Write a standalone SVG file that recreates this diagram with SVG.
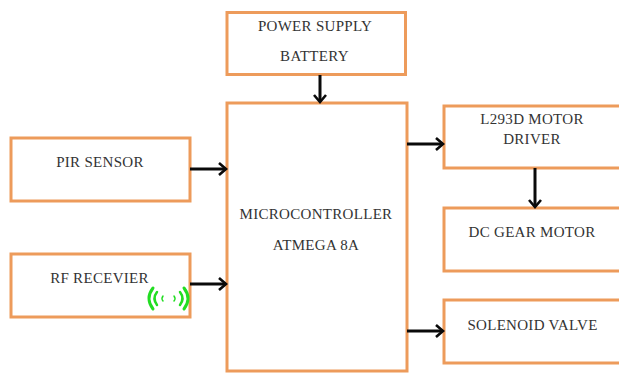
<svg xmlns="http://www.w3.org/2000/svg" width="619" height="373" viewBox="0 0 619 373">
<style>
.box{fill:#fff;stroke:#ED9B5B;stroke-width:3}
.t{font-family:"Liberation Serif",serif;font-size:15px;letter-spacing:.3px;fill:#333;text-anchor:middle}
.c{fill:none;stroke:#0a0a0a;stroke-width:3}
.w{fill:none;stroke:#22DD22;stroke-linecap:round}
</style>
<defs>
<marker id="a" markerUnits="userSpaceOnUse" markerWidth="14" markerHeight="16" refX="11" refY="8" orient="auto">
<path d="M4 2L11 8L4 14" fill="none" stroke="#0a0a0a" stroke-width="2.6"/>
</marker>
</defs>
<rect width="619" height="373" fill="#fff"/>
<g id="power"><rect class="box" x="227" y="12.500" width="178.500" height="62"/>
<text class="t" x="315" y="31">POWER SUPPLY</text><text class="t" x="314.500" y="61">BATTERY</text></g>
<g id="mcu"><rect class="box" x="227" y="103" width="180" height="268"/>
<text class="t" x="316" y="219">MICROCONTROLLER</text><text class="t" x="316" y="250">ATMEGA 8A</text></g>
<g id="pir"><rect class="box" x="11" y="138" width="179" height="63"/>
<text class="t" x="100" y="167">PIR SENSOR</text></g>
<g id="rf"><rect class="box" x="11" y="254" width="179" height="63"/>
<text class="t" x="99.500" y="283">RF RECEVIER</text>
<path class="w" stroke-width="3" d="M153 288Q145 298.500 153 309M184 288Q192 298.500 184 309"/>
<path class="w" stroke-width="2.500" d="M157 292Q152 298.500 157 305M180 292Q185 298.500 180 305"/>
<path class="w" stroke-width="1.500" d="M163 296Q161 298.500 163 301M174 296Q176 298.500 174 301"/></g>
<g id="driver"><rect class="box" x="444" y="106" width="177" height="62"/>
<text class="t" x="532" y="124">L293D MOTOR</text><text class="t" x="532" y="144">DRIVER</text></g>
<g id="dc"><rect class="box" x="444" y="208" width="177" height="63"/>
<text class="t" x="532" y="237">DC GEAR MOTOR</text></g>
<g id="valve"><rect class="box" x="444" y="300" width="177" height="63"/>
<text class="t" x="532.500" y="330">SOLENOID VALVE</text></g>
<g id="connectors">
<path class="c" marker-end="url(#a)" d="M320 75V102"/>
<path class="c" marker-end="url(#a)" d="M190 169H226"/>
<path class="c" marker-end="url(#a)" d="M190 284H226"/>
<path class="c" marker-end="url(#a)" d="M407 144H443"/>
<path class="c" marker-end="url(#a)" d="M407 331H443"/>
<path class="c" marker-end="url(#a)" d="M535 168V207"/>
</g>
</svg>
